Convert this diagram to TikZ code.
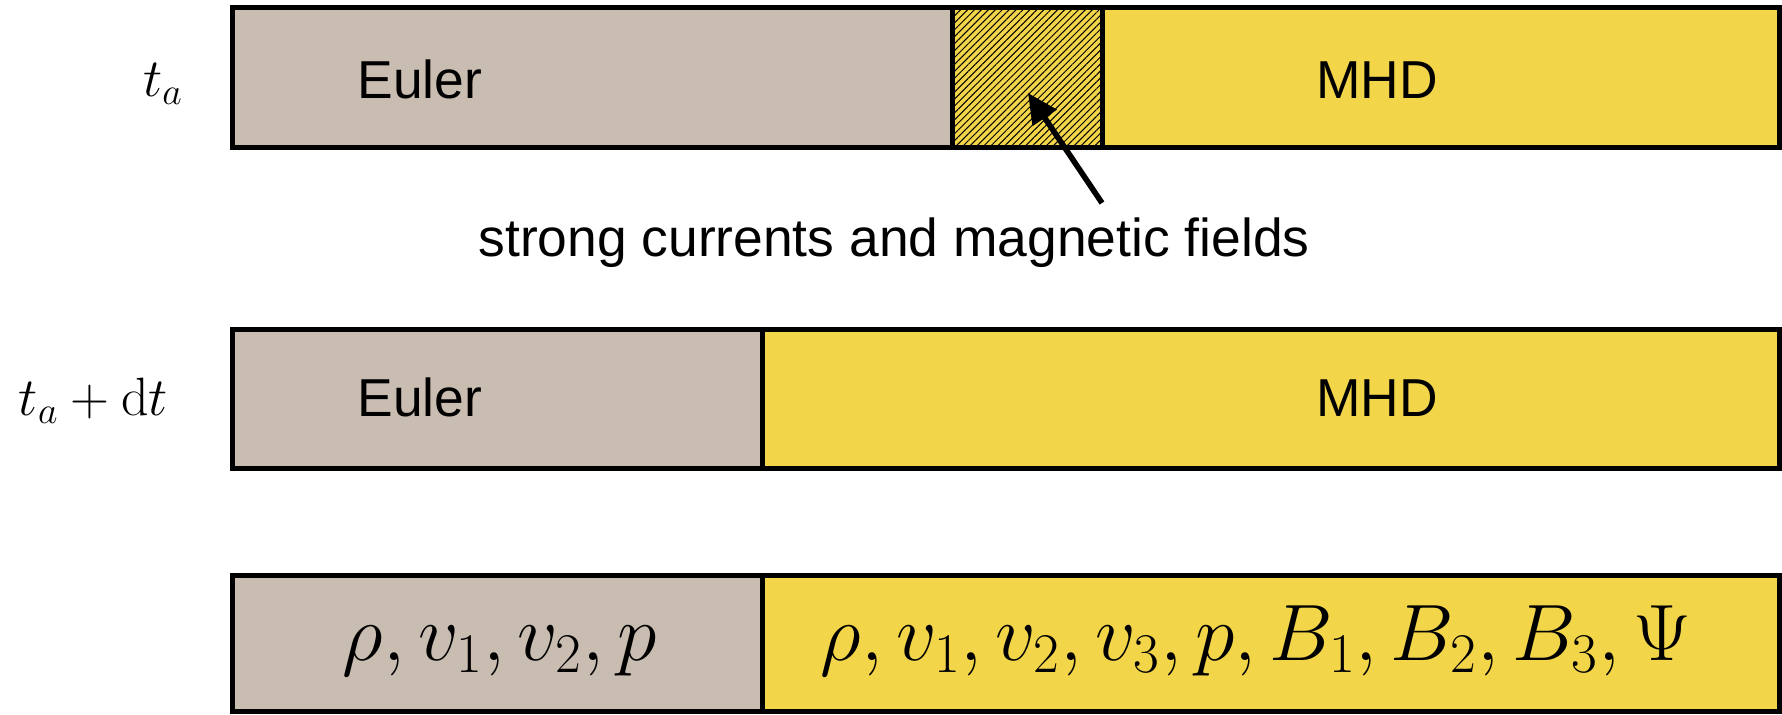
\RequirePackage{fix-cm}
\documentclass[tikz,border=0pt]{standalone}
\usepackage[no-math]{fontspec}
\setmainfont{Liberation Sans}
\usetikzlibrary{patterns.meta,arrows.meta}
\definecolor{eulerc}{HTML}{C9BCB1}
\definecolor{mhdc}{HTML}{F3D54A}
\tikzset{
  cell/.style={draw=black, line width=2.5pt, inner sep=0pt, outer sep=0pt, anchor=north west},
  sans/.style={font=\fontsize{26.7}{30}\selectfont, inner sep=0pt, anchor=base},
  tlabel/.style={font=\fontsize{27}{32}\selectfont, inner sep=0pt},
  vars/.style={font=\fontsize{40}{44}\selectfont, inner sep=0pt, anchor=base},
  arr/.style={line width=2.8pt, -{Triangle[length=15pt,width=14pt]}}
}
\begin{document}
\begin{tikzpicture}[x=0.5pt,y=-0.5pt]
\useasboundingbox (0,0) rectangle (1782,714);
% row 1
\node[cell, fill=mhdc, minimum width=413.5pt, minimum height=70pt] (m1) at (952,7) {};
\node[cell, fill=eulerc, minimum width=360pt, minimum height=70pt] (e1) at (232,7) {};
\node[cell, preaction={fill=mhdc}, pattern={Lines[angle=45,distance=2.45pt,line width=0.5pt]}, minimum width=75pt, minimum height=70pt] (h1) at (952,7) {};
\node[tlabel] (ta) at (163,84) {$t_a$};
\node[sans] (eu1) at (420,98) {Euler};
\node[sans] (mh1) at (1377,98) {MHD};
\coordinate (tip) at (1028,93);
\coordinate (tail) at (1102,203);
\draw[arr] (tail) -- (tip);
\node[sans] (sc) at (894,256) {strong currents and magnetic fields};
% row 2
\node[cell, fill=mhdc, minimum width=508.5pt, minimum height=69.5pt] (m2) at (762,329) {};
\node[cell, fill=eulerc, minimum width=265pt, minimum height=69.5pt] (e2) at (232,329) {};
\node[tlabel] (tadt) at (93.5,401) {$t_a+\mathrm{d}t$};
\node[sans] (eu2) at (420,416) {Euler};
\node[sans] (mh2) at (1377,416) {MHD};
% row 3
\node[cell, fill=mhdc, minimum width=508.5pt, minimum height=68pt] (m3) at (762,575) {};
\node[cell, fill=eulerc, minimum width=265pt, minimum height=68pt] (e3) at (232,575) {};
\node[vars] (ve) at (500,660) {$\rho,v_1,v_2,p$};
\node[vars] (vm) at (1256,660) {$\rho,v_1,v_2,v_3,p,B_1,B_2,B_3,\Psi$};
\end{tikzpicture}
\end{document}
